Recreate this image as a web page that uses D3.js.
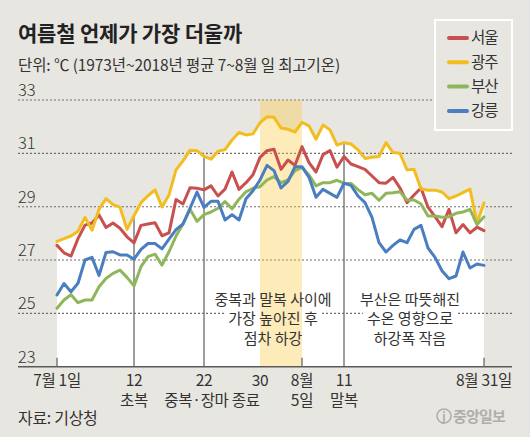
<!DOCTYPE html>
<html><head><meta charset="utf-8">
<script src="https://cdn.jsdelivr.net/npm/d3@7"></script>
<style>
html,body{margin:0;padding:0;background:#e8e6e1;}
svg{display:block;}
text{font-family:"Noto Sans CJK KR","Noto Sans",sans-serif;}
</style></head><body>
<svg id="chart" width="530" height="437"></svg>
<script>
// ---- data ----
const dayIndex = d3.range(62); // 7월 1일 .. 8월 31일
const seoul = [27.55,27.27,27.15,27.8,28.31,28.39,28.69,28.22,28.39,28.19,27.87,27.64,28.3,28.35,28.4,27.91,28.02,29.27,29.1,29.71,29.69,29.63,29.78,29.4,29.66,30.3,29.65,29.9,30.2,30.85,31.1,31.15,30.4,30.75,30.55,31.25,30.65,30.3,30.95,31.1,30.48,30.88,30.6,30.5,30.4,30.15,29.9,29.88,30.1,29.7,29.15,29.44,29.7,28.98,28.63,28.25,28.9,28.02,28.33,28.02,28.23,28.1];
const gwangju = [27.7,27.8,27.9,28.08,28.6,28.12,28.9,29.3,29.08,28.98,28.15,28.66,29.15,29.41,29.63,28.99,29.44,30.38,30.72,31.12,31.1,30.89,30.78,31.08,31.14,31.5,31.78,31.69,31.73,32.15,32.37,32.35,31.95,31.9,31.8,32.16,32.03,31.53,32.06,31.88,31.31,31.4,31.35,31.13,30.81,30.85,30.88,31.4,31.03,31.0,30.38,30.4,29.66,29.62,29.62,29.55,29.3,29.4,29.53,29.66,28.38,29.14];
const busan = [25.19,25.5,25.7,25.4,25.5,25.5,26.0,26.31,26.5,26.62,26.35,26.03,26.75,27.13,27.22,26.81,27.31,27.9,28.35,28.9,28.45,28.7,28.8,28.94,29.19,28.92,29.28,29.56,29.69,29.75,30.0,30.13,29.9,30.0,30.35,30.47,30.19,29.78,29.9,29.9,29.99,29.88,29.87,29.64,29.45,29.5,29.24,29.5,29.52,29.56,29.25,29.25,29.1,28.65,28.65,28.6,28.62,28.75,28.8,28.9,28.33,28.62];
const gangneung = [25.69,26.12,25.81,26.13,27.0,27.1,26.42,27.28,27.31,27.19,27.19,27.03,27.4,27.62,27.62,27.42,27.78,28.14,28.35,28.94,29.55,28.97,29.2,29.2,28.5,28.7,28.5,29.3,29.6,30.0,30.55,30.35,29.7,29.95,30.5,30.5,30.1,29.35,29.65,29.5,29.35,29.88,29.8,29.4,29.15,28.6,27.65,27.3,27.55,27.75,27.65,28.15,28.3,27.45,27.1,26.6,26.3,26.4,27.3,26.7,26.85,26.8];
const seriesNames = ["서울","광주","부산","강릉"];
const seriesColors = ["#c8504f","#f2bd1e","#8fb65a","#4a7ec0"];
const yTicks = [23,25,27,29,31,33];
const tickDays = [0,11,21,29,35,41,61];
const tickLine1 = ["7월 1일","12","22","30","8월","11","8월 31일"];
const tickLine2 = ["","초복","중복·장마 종료","","5일","말복",""];
const markerDays = [11,21,41];
const highlightDays = [29,35];
const note1 = ["중복과 말복 사이에","가장 높아진 후","점차 하강"];
const note2 = ["부산은 따뜻해진","수온 영향으로","하강폭 작음"];

// ---- drawing ----
const svg = d3.select("#chart");
const bg = "#e8e6e1";
const x = d3.scaleLinear().domain([0,61]).range([57,484]);
const y = d3.scaleLinear().domain([23,33]).range([366.7,100]);
const series = [seoul,gwangju,busan,gangneung];

svg.append("rect").attr("width",530).attr("height",437).attr("fill",bg);

// white area under 광주
svg.append("path")
  .datum(dayIndex)
  .attr("fill","#fff")
  .attr("d", d3.area().x(d=>x(d)).y0(y(23)).y1(d=>y(gwangju[d])));

// gridlines
const gl = svg.append("g");
yTicks.slice(1).forEach(v=>{
  gl.append("line")
    .attr("x1",18).attr("x2", v===33 ? 435 : 512)
    .attr("y1",y(v)).attr("y2",y(v))
    .attr("stroke","#6d6d6d").attr("stroke-width",1.1)
    .attr("stroke-dasharray","2,2");
});

// marker vertical lines
markerDays.forEach(d=>{
  svg.append("line")
    .attr("x1",x(d)).attr("x2",x(d))
    .attr("y1",y(23)).attr("y2",y(gwangju[d]))
    .attr("stroke","#6a6a6a").attr("stroke-width",1.3);
});

// layer for white backing behind annotations (filled later after measuring)
const haloLayer = svg.append("g");

// highlight band
svg.append("rect")
  .attr("x",x(highlightDays[0])).attr("width",x(highlightDays[1])-x(highlightDays[0]))
  .attr("y",y(33)).attr("height",y(23)-y(33))
  .attr("fill","rgb(250,200,60)").attr("opacity",0.36);

// series lines
const line = d3.line().x((v,i)=>x(dayIndex[i])).y(v=>y(v));
series.forEach((s,k)=>{
  svg.append("path").datum(s)
    .attr("fill","none").attr("stroke",seriesColors[k])
    .attr("stroke-width",3).attr("stroke-linejoin","round").attr("stroke-linecap","round")
    .attr("d",line);
});

// annotation text blocks (one text element each, lines as tspans)
function noteBlock(lines, cx){
  const t = svg.append("text")
    .attr("text-anchor","middle")
    .attr("font-size",15).attr("letter-spacing","0px").attr("fill","#333");
  lines.forEach((s,i)=>{
    const yy = 304.5 + i*19.5;
    const sp = t.append("tspan").attr("x",cx).attr("y",yy).text(s);
    const b = sp.node().getBBox();
    haloLayer.append("rect")
      .attr("x",b.x-4).attr("width",b.width+8)
      .attr("y",yy-13).attr("height",16)
      .attr("fill","#fff");
  });
}
noteBlock(note1, 273);
noteBlock(note2, 410);

// axis line
svg.append("line").attr("x1",18).attr("x2",512).attr("y1",y(23)).attr("y2",y(23))
  .attr("stroke","#5a5a5a").attr("stroke-width",1.5);
// small ticks
[0,35,61].forEach(d=>{
  svg.append("line").attr("x1",x(d)).attr("x2",x(d)).attr("y1",y(23)-9).attr("y2",y(23))
    .attr("stroke","#6a6a6a").attr("stroke-width",1.3);
});

// y labels
yTicks.forEach(v=>{
  svg.append("text").attr("x",18).attr("y",y(v)-4)
    .attr("font-size",16.5).attr("fill","#333").attr("font-weight",300)
    .attr("font-family","Roboto, 'Noto Sans', sans-serif")
    .text(v);
});

// x labels (two lines per tick in one text element)
tickDays.forEach((d,i)=>{
  const t = svg.append("text")
    .attr("text-anchor","middle").attr("font-size",15.5).attr("fill","#333")
    .attr("letter-spacing","-0.3px");
  t.append("tspan").attr("x",x(d)).attr("y",385.5).text(tickLine1[i]);
  if(tickLine2[i]){
    t.append("tspan").attr("x",x(d) + (i===2 ? 8 : 0)).attr("y",405.5).text(tickLine2[i]);
  }
});

// title
svg.append("text").attr("x",18).attr("y",41).attr("font-size",21).attr("font-weight",700)
  .attr("fill","#222").attr("letter-spacing","-0.2px").text("여름철 언제가 가장 더울까");
svg.append("text").attr("x",18).attr("y",71).attr("font-size",15.5).attr("fill","#333")
  .attr("letter-spacing","-0.1px").text("단위: ℃ (1973년~2018년 평균 7~8월 일 최고기온)");

// source
svg.append("text").attr("x",18).attr("y",424).attr("font-size",16).attr("fill","#333")
  .attr("letter-spacing","-0.3px").text("자료: 기상청");

// logo
const lg = svg.append("g").attr("fill","#b0aeaa");
lg.append("circle").attr("cx",444).attr("cy",416).attr("r",7).attr("fill","none")
  .attr("stroke","#b0aeaa").attr("stroke-width",1.6);
lg.append("text").attr("x",444).attr("y",420.5).attr("text-anchor","middle")
  .attr("font-size",11).attr("font-weight",700).text("j");
lg.append("text").attr("x",453).attr("y",422).attr("font-size",15).attr("font-weight",700)
  .attr("letter-spacing","-0.8px").text("중앙일보");

// legend
svg.append("rect").attr("x",435).attr("y",20).attr("width",77).attr("height",110)
  .attr("fill",bg).attr("stroke","#fff").attr("stroke-width",2);
seriesNames.forEach((n,k)=>{
  const ly = 38 + k*24.3;
  svg.append("line").attr("x1",449).attr("x2",467).attr("y1",ly).attr("y2",ly)
    .attr("stroke",seriesColors[k]).attr("stroke-width",4).attr("stroke-linecap","round");
  svg.append("text").attr("x",471).attr("y",ly).attr("dy","0.35em")
    .attr("font-size",15.5).attr("fill","#333").attr("letter-spacing","-1px").text(n);
});
</script>
</body></html>
